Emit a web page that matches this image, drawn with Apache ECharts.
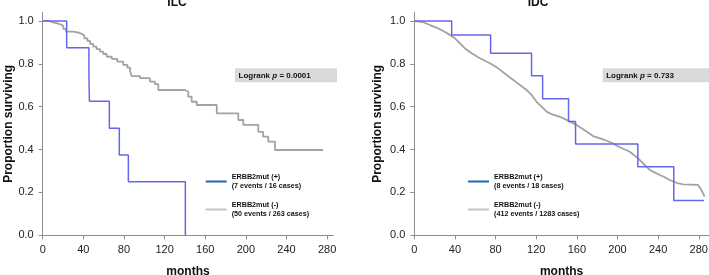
<!DOCTYPE html>
<html>
<head>
<meta charset="utf-8">
<title>ILC / IDC survival</title>
<script src="https://cdn.jsdelivr.net/npm/echarts@6.0.0/dist/echarts.min.js"></script>
<style>
    html, body { margin: 0; padding: 0; background: #fff; }
    #main { width: 709px; height: 275px; }
</style>
</head>
<body>
<div id="main"></div>
<script>
// panel titles and p-values
var panelTitles = ['ILC', 'IDC'];
var pValues = ['0.0001', '0.733'];
var xTicks = [0, 40, 80, 120, 160, 200, 240, 280];
var yTicks = [0, 0.2, 0.4, 0.6, 0.8, 1.0];

// ILC, ERBB2mut (+) : 7 events / 16 cases
var ilcPosMonths = [0, 23.6, 45.5, 46, 65.6, 75.4, 84.3, 140.4];
var ilcPosSurv = [1, 0.875, 0.75, 0.625, 0.5, 0.375, 0.25, 0];

// ILC, ERBB2mut (-) : 50 events / 263 cases
var ilcNegMonths = [0, 5.5, 10.4, 16.4, 20.3, 23, 30, 36, 38.4, 41, 44, 46.6, 49.8, 53, 56.4, 59.7, 63, 68,
    73.4, 79.3, 83.3, 86, 87.6, 95.8, 105.6, 110.5, 113.8, 140, 143.3, 146.6, 151.6, 171.3, 192.5, 197.4,
    212.2, 217, 222, 228.6, 276];
var ilcNegSurv = [1, 0.994, 0.986, 0.977, 0.963, 0.95, 0.945, 0.94, 0.931, 0.919, 0.907, 0.893, 0.88, 0.869,
    0.857, 0.846, 0.833, 0.823, 0.81, 0.795, 0.782, 0.767, 0.743, 0.733, 0.717, 0.705, 0.678, 0.67, 0.647,
    0.623, 0.608, 0.569, 0.538, 0.515, 0.483, 0.46, 0.437, 0.398, 0.398];

// IDC, ERBB2mut (+) : 8 events / 18 cases
var idcPosMonths = [0, 36.8, 75.1, 115.4, 126.3, 151.8, 158.7, 220, 255.4, 285];
var idcPosSurv = [1, 0.934, 0.849, 0.744, 0.637, 0.531, 0.426, 0.32, 0.162, 0.162];

// IDC, ERBB2mut (-) : 412 events / 1283 cases
var idcNegMonths = [0, 8.9, 15.4, 22, 28.5, 35.1, 40, 44.9, 49.9, 56.4, 64.6, 74.4, 82.6, 90.9, 97.4, 103.9,
    110.5, 115.4, 120.4, 125.3, 130.2, 135.1, 143.3, 151.4, 159.7, 166.2, 176, 185.8, 194.1, 202.3, 212.1,
    220.3, 226.8, 231.8, 238.3, 246.5, 251.4, 258, 264.5, 279.3, 282.6, 285.8];
var idcNegSurv = [1, 0.994, 0.981, 0.969, 0.953, 0.935, 0.919, 0.896, 0.872, 0.849, 0.826, 0.803, 0.779,
    0.748, 0.725, 0.701, 0.678, 0.655, 0.623, 0.6, 0.577, 0.565, 0.553, 0.535, 0.515, 0.495, 0.463, 0.448,
    0.432, 0.411, 0.39, 0.359, 0.328, 0.305, 0.289, 0.271, 0.258, 0.245, 0.238, 0.235, 0.211, 0.18];

// legend texts
var legendNames = ['ERBB2mut (+)', 'ERBB2mut (-)'];
var legendCounts = [
    ['(7 events / 16 cases)', '(50 events / 263 cases)'],
    ['(8 events / 18 cases)', '(412 events / 1283 cases)']
];

var zip = function (xs, ys) {
    return xs.map(function (x, i) { return [x, ys[i]]; });
};

var FONT = "'Liberation Sans', Arial, sans-serif";
var BLUE = '#6565ee';
var GRAY = '#a2a2a2';
var AXIS = '#8c8c8c';

var myChart = echarts.init(document.getElementById('main'));

var xAxisOf = function (idx, max) {
    return {
        gridIndex: idx, type: 'value', min: 0, max: max, interval: 40,
        name: 'months', nameLocation: 'middle', nameGap: 30,
        nameTextStyle: { fontFamily: FONT, fontSize: 12, fontWeight: 'bold', color: '#111' },
        axisLine: { lineStyle: { color: AXIS, width: 1 } },
        axisTick: { length: 4, lineStyle: { color: AXIS }, customValues: xTicks },
        axisLabel: { margin: 9, fontFamily: FONT, fontSize: 11, color: '#222', customValues: xTicks },
        splitLine: { show: false }
    };
};

var yAxisOf = function (idx, gap) {
    return {
        gridIndex: idx, type: 'value', min: 0, max: 1.04, interval: 0.2,
        name: 'Proportion surviving', nameLocation: 'middle', nameGap: gap,
        nameTextStyle: { fontFamily: FONT, fontSize: 12, fontWeight: 'bold', color: '#111' },
        axisLine: { show: true, lineStyle: { color: AXIS, width: 1 } },
        axisTick: { show: true, length: 4, lineStyle: { color: AXIS }, customValues: yTicks },
        axisLabel: {
            margin: 9, fontFamily: FONT, fontSize: 11, color: '#222', customValues: yTicks,
            formatter: function (v) { return v.toFixed(1); }
        },
        splitLine: { show: false }
    };
};

var lineOf = function (name, idx, data, color, width, step) {
    return {
        name: name, type: 'line', xAxisIndex: idx, yAxisIndex: idx,
        data: data, step: step, symbol: 'none', showSymbol: false,
        lineStyle: { color: color, width: width }, itemStyle: { color: color },
        silent: true
    };
};

var legendOf = function (panel, left) {
    var keys = [panelTitles[panel] + ' +', panelTitles[panel] + ' -'];
    return {
        orient: 'vertical', left: left, top: 168, padding: 0,
        itemWidth: 21, itemHeight: 2, itemGap: 1, selectedMode: false,
        data: [
            { name: keys[0], icon: 'rect', itemStyle: { color: '#1f66b8' } },
            { name: keys[1], icon: 'rect', itemStyle: { color: '#c4c4c4' } }
        ],
        formatter: function (name) {
            var k = keys.indexOf(name);
            return legendNames[k] + '\n' + legendCounts[panel][k];
        },
        textStyle: {
            fontFamily: FONT, fontSize: 7.2, fontWeight: 'bold', color: '#111',
            lineHeight: 9, padding: [0, 0, 9, 0]
        }
    };
};

var logrankOf = function (panel, x, w) {
    return {
        type: 'group', x: x, y: 68.3,
        children: [
            { type: 'rect', shape: { x: 0, y: 0, width: w, height: 14 }, style: { fill: '#d9d9d9' } },
            {
                type: 'text', x: 3.5, y: 7,
                style: {
                    text: 'Logrank {i|p} = ' + pValues[panel],
                    fontFamily: FONT, fontSize: 8, fontWeight: 'bold', fill: '#111',
                    verticalAlign: 'middle',
                    rich: { i: { fontFamily: FONT, fontSize: 8, fontWeight: 'bold', fontStyle: 'italic', fill: '#111' } }
                }
            }
        ]
    };
};

var option = {
    animation: false,
    backgroundColor: '#fff',
    title: [
        { text: panelTitles[0], left: 177, top: -3, textAlign: 'center', padding: 0,
          textStyle: { fontFamily: FONT, fontSize: 12, fontWeight: 'bold', color: '#111' } },
        { text: panelTitles[1], left: 538, top: -3, textAlign: 'center', padding: 0,
          textStyle: { fontFamily: FONT, fontSize: 12, fontWeight: 'bold', color: '#111' } }
    ],
    grid: [
        { left: 42.7, top: 12.4, width: 286 * 1.016, height: 222.9, outerBoundsMode: 'none', containLabel: false },
        { left: 414.3, top: 12.4, width: 290 * 1.016, height: 222.9, outerBoundsMode: 'none', containLabel: false }
    ],
    xAxis: [xAxisOf(0, 286), xAxisOf(1, 290)],
    yAxis: [yAxisOf(0, 28), yAxisOf(1, 31)],
    legend: [legendOf(0, 205.7), legendOf(1, 468)],
    series: [
        lineOf('ILC -', 0, zip(ilcNegMonths, ilcNegSurv), GRAY, 1.8, 'end'),
        lineOf('ILC +', 0, zip(ilcPosMonths, ilcPosSurv), BLUE, 1.5, 'end'),
        lineOf('IDC -', 1, zip(idcNegMonths, idcNegSurv), GRAY, 1.8, false),
        lineOf('IDC +', 1, zip(idcPosMonths, idcPosSurv), BLUE, 1.5, 'end')
    ],
    graphic: [logrankOf(0, 235, 102), logrankOf(1, 602.7, 107)]
};

myChart.setOption(option);
</script>
</body>
</html>
